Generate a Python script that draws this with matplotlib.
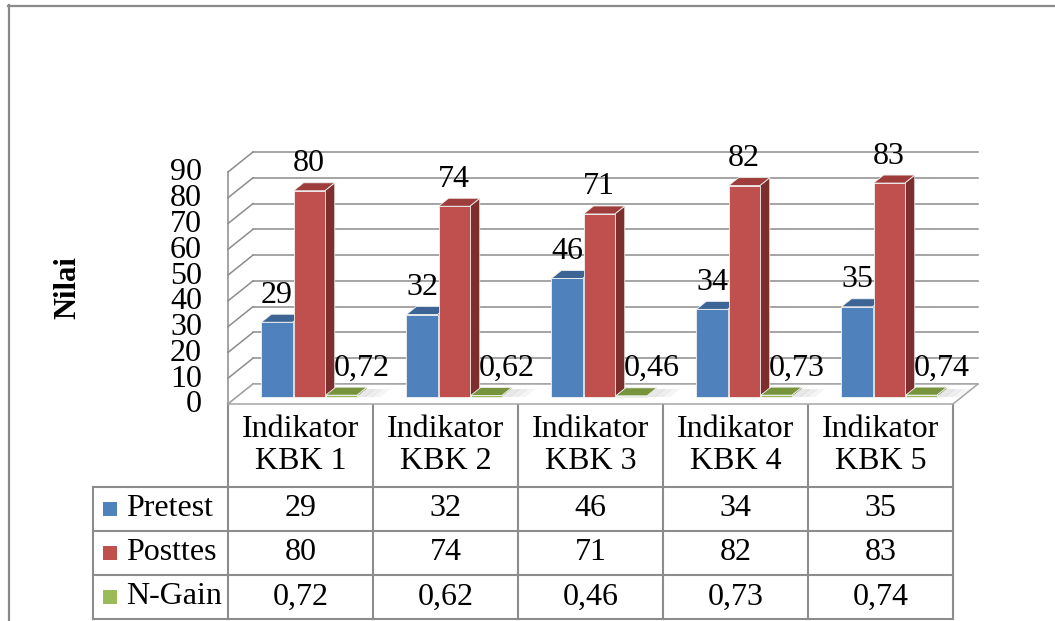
import numpy as np
import matplotlib.pyplot as plt
from matplotlib.patches import Polygon

plt.rcParams['font.family'] = ['Liberation Serif', 'DejaVu Serif']

# data
kategori = ['Indikator\nKBK 1', 'Indikator\nKBK 2', 'Indikator\nKBK 3',
            'Indikator\nKBK 4', 'Indikator\nKBK 5']
seri = ['Pretest', 'Posttes', 'N-Gain']
pretest = [29, 32, 46, 34, 35]
posttes = [80, 74, 71, 82, 83]
ngain = [0.72, 0.62, 0.46, 0.73, 0.74]
label_ngain = ['0,72', '0,62', '0,46', '0,73', '0,74']
yticks = [0, 10, 20, 30, 40, 50, 60, 70, 80, 90]

nilai = [pretest, posttes, ngain]
teks = [[str(v) for v in pretest], [str(v) for v in posttes], label_ngain]

# warna: depan, atas, samping
warna = [('#4F81BD', '#3C6596', '#2F4F77'),
         ('#C0504D', '#9E3D3B', '#7D2F2E'),
         ('#9BBB59', '#77933C', '#5E7530')]

FS = 23
W, H = 1055, 621
fig = plt.figure(figsize=(W / 100, H / 100), dpi=100)

# overlay in pixel untuk bingkai & tabel
ax2 = fig.add_axes([0, 0, 1, 1], zorder=0)
ax2.set_xlim(0, W)
ax2.set_ylim(H, 0)
ax2.axis('off')

X0, X1 = 228, 953
YF, YT = 404, 172
ax = fig.add_axes([X0 / W, (H - YF) / H, (X1 - X0) / W, (YF - YT) / H], zorder=1)
ax.set_xlim(0, 5)
ax.set_ylim(0, 90)
ax.axis('off')
ax.patch.set_visible(False)

px_x = (X1 - X0) / 5.0
px_y = (YF - YT) / 90.0
DX = 25 / px_x
DY = 20 / px_y
abu = '#8C8C8C'

# dinding belakang + kiri
for v in yticks:
    ax.plot([DX, 5 + DX], [v + DY, v + DY], color=abu, lw=1.1, clip_on=False, zorder=1)
    ax.plot([0, DX], [v, v + DY], color=abu, lw=1.1, clip_on=False, zorder=1)
    ax.annotate(str(v), (0, v), xytext=(-26, -1), textcoords='offset pixels',
                ha='right', va='center', fontsize=FS, annotation_clip=False)
ax.plot([0, 0], [0, 90], color=abu, lw=1.1, clip_on=False, zorder=1)

# lantai
lantai = Polygon([(0, 0), (5, 0), (5 + DX, DY), (DX, DY)], closed=True,
                 facecolor='white', edgecolor='#A6A6A6', lw=1.1, clip_on=False, zorder=2)
ax.add_patch(lantai)

f0, f1 = 0.35, 0.75
bw = 0.215
for i in range(5):
    for j in range(3):
        v = nilai[j][i]
        x0 = i + 0.17 + j * 0.222
        ax_ = x0 + f0 * DX
        ay = f0 * DY
        cdep, catas, csamp = warna[j]
        if j == 2:
            # bayangan tipis di lantai
            for k, a in enumerate([0.35, 0.25, 0.15]):
                sx = x0 + bw + k * 0.05
                ax.add_patch(Polygon([(sx + f0 * DX, ay), (sx + 0.06 + f0 * DX, ay),
                                      (sx + 0.06 + f1 * DX, f1 * DY), (sx + f1 * DX, f1 * DY)],
                                     facecolor='#BFBFBF', alpha=a, lw=0, clip_on=False, zorder=3))
        depan = Polygon([(ax_, ay), (ax_ + bw, ay), (ax_ + bw, ay + v), (ax_, ay + v)],
                        facecolor=cdep, edgecolor='#F2F2F2', lw=0.6, clip_on=False, zorder=4)
        atas = Polygon([(ax_, ay + v), (ax_ + bw, ay + v),
                        (x0 + bw + f1 * DX, f1 * DY + v), (x0 + f1 * DX, f1 * DY + v)],
                       facecolor=catas, edgecolor='#F2F2F2', lw=0.6, clip_on=False, zorder=4)
        samping = Polygon([(ax_ + bw, ay), (x0 + bw + f1 * DX, f1 * DY),
                           (x0 + bw + f1 * DX, f1 * DY + v), (ax_ + bw, ay + v)],
                          facecolor=csamp, edgecolor='#F2F2F2', lw=0.6, clip_on=False, zorder=4)
        ax.add_patch(samping)
        ax.add_patch(depan)
        ax.add_patch(atas)
        dx_lbl = 20 if j == 2 else 0
        ax.annotate(teks[j][i], (ax_ + bw / 2, ay + v), xytext=(dx_lbl, 27),
                    textcoords='offset pixels', ha='center', va='center',
                    fontsize=FS, annotation_clip=False, zorder=6)

# bingkai luar
ax2.plot([8, W], [5.5, 5.5], color='#8A8A8A', lw=1.6)
ax2.plot([8.5, 8.5], [5, H], color='#8A8A8A', lw=1.6)

# label sumbu
ax2.text(68, 288, 'Nilai', rotation=90, ha='center', va='center',
         fontsize=FS - 1, fontweight='bold')

# tabel data
tl = 93
rows = [404, 487, 531, 575, 619]
cols = X0 + px_x * np.arange(6)
lc = '#8C8C8C'
for r in rows[1:]:
    ax2.plot([tl, X1], [r, r], color=lc, lw=1.5)
for c in cols:
    ax2.plot([c, c], [rows[0], rows[-1]], color=lc, lw=1.5)
ax2.plot([tl, tl], [rows[1], rows[-1]], color=lc, lw=1.5)

for i, k in enumerate(kategori):
    ax2.text((cols[i] + cols[i + 1]) / 2, (rows[0] + rows[1]) / 2, k,
             ha='center', va='center', fontsize=FS, linespacing=1.15)
for j, s in enumerate(seri):
    yc = (rows[j + 1] + rows[j + 2]) / 2
    ax2.add_patch(plt.Rectangle((103, yc - 7), 14, 14, facecolor=warna[j][0],
                                edgecolor='none'))
    ax2.text(126, yc, s, ha='left', va='center', fontsize=FS)
    for i in range(5):
        ax2.text((cols[i] + cols[i + 1]) / 2, yc, teks[j][i],
                 ha='center', va='center', fontsize=FS)

fig.savefig('out.png', dpi=100)
